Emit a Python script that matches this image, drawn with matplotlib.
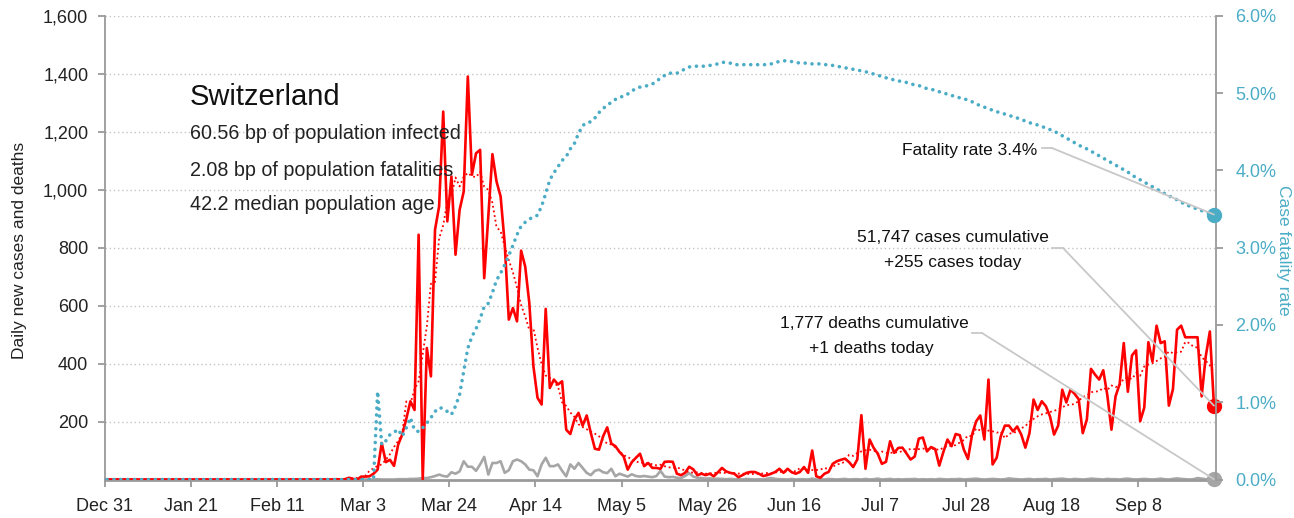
"""Switzerland: daily new cases, deaths and case fatality rate (Dec 31 - Sep 26)."""
import numpy as np
import pandas as pd
import matplotlib
matplotlib.use("Agg")
import matplotlib.pyplot as plt
from matplotlib.lines import Line2D
from matplotlib.patches import ConnectionPatch
from matplotlib.ticker import FuncFormatter

plt.rcParams["font.family"] = ["Liberation Sans", "DejaVu Sans"]

# ============================ data ============================
FIRST = 55                                   # day index (days after Dec 31) of first listed value
LEAD_ZEROS = [0] * FIRST                     # Dec 31 .. Feb 23: flat at zero

# daily new cases, day 55 .. 270
CASES = [
    0, 1, 0, 1, 6, 2, 0, 10, 10, 11,                       # 55-64
    20, 34, 126, 60, 68, 47, 120, 155, 210, 270,           # 65-74
    240, 845, 0, 454, 356, 862, 943, 1270, 891, 1046,      # 75-84
    776, 931, 994, 1391, 1052, 1126, 1138, 695, 910, 1123, # 85-94
    1029, 977, 814, 552, 592, 546, 790, 735, 609, 391,     # 95-104
    282, 259, 589, 316, 345, 328, 339, 172, 157, 207,      # 105-114
    230, 186, 221, 161, 106, 103, 149, 180, 124, 115,      # 115-124
    95, 80, 34, 60, 75, 89, 46, 57, 40, 40,                # 125-134
    37, 61, 62, 61, 20, 15, 23, 44, 35, 15,                # 135-144
    20, 15, 20, 11, 25, 40, 28, 23, 20, 8,                 # 145-154
    15, 23, 26, 26, 20, 12, 15, 20, 26, 37,                # 155-164
    23, 37, 25, 20, 26, 43, 23, 100, 11, 6,                # 165-174
    20, 26, 54, 63, 68, 72, 60, 43, 69, 222,               # 175-184
    37, 138, 109, 89, 54, 61, 132, 92, 109, 110,           # 185-194
    90, 69, 79, 141, 145, 97, 112, 105, 48, 95,            # 195-204
    138, 115, 157, 153, 103, 71, 155, 201, 221, 138,       # 205-214
    345, 52, 75, 149, 186, 186, 166, 183, 155, 110,        # 215-224
    160, 276, 240, 270, 253, 218, 155, 186, 310, 266,      # 225-234
    310, 296, 277, 160, 207, 382, 362, 345, 377, 290,      # 235-244
    172, 287, 330, 471, 303, 428, 446, 201, 248, 474,      # 245-254
    407, 531, 471, 477, 255, 312, 517, 531, 491, 491,      # 255-264
    491, 491, 287, 425, 511, 255,                          # 265-270
]

# daily deaths, day 55 .. 270
DEATHS = [
    0, 0, 0, 0, 0, 0, 0, 0, 0, 0,                          # 55-64
    0, 1, 0, 0, 0, 0, 1, 1, 1, 2,                          # 65-74
    2, 3, 5, 5, 8, 12, 17, 12, 10, 25,                     # 75-84
    20, 28, 63, 44, 44, 30, 52, 78, 17, 57,                # 85-94
    57, 63, 23, 32, 63, 69, 63, 52, 34, 32,                # 95-104
    11, 52, 75, 46, 46, 52, 30, 11, 52, 37,                # 105-114
    57, 40, 23, 15, 30, 34, 25, 22, 37, 11,                # 115-124
    20, 15, 10, 18, 12, 10, 12, 10, 8, 12,                 # 125-134
    30, 10, 8, 9, 6, 5, 12, 22, 10, 6,                     # 135-144
    5, 3, 4, 2, 3, 2, 1, 2, 1, 1,                          # 145-154
    0, 2, 1, 0, 1, 0, 3, 5, 2, 1,                          # 155-164
    1, 0, 2, 0, 1, 1, 0, 3, 0, 1, 0, 2, 1, 0, 1, 2,        # 165-180
    0, 1, 1, 0, 2, 0, 1, 3, 0, 1, 2, 0, 1, 0, 1, 1, 2, 0, 1, 0,   # 181-200
    1, 0, 2, 1, 0, 1, 1, 2, 0, 1, 2, 3, 1, 0, 1, 2, 1, 0, 1, 4,   # 201-220
    2, 1, 0, 1, 2, 0, 1, 1, 2, 0, 1, 2, 3, 1, 0, 2, 1, 0, 1, 3,   # 221-240
    2, 1, 0, 2, 1, 1, 0, 2, 3, 1, 0, 1, 2, 1, 0, 1, 3, 1, 0, 2,   # 241-260
    4, 2, 1, 0, 1, 5, 3, 1, 2, 1,                          # 261-270
]

# case fatality rate (%), day 55 .. 270
RATE = [
    0, 0, 0, 0, 0, 0, 0, 0, 0, 0, 0,                       # 55-65
    1.14, 0.45, 0.50, 0.58, 0.61, 0.65, 0.56, 0.67, 0.80,  # 66-74
    0.64, 0.62, 0.67, 0.73, 0.80, 0.88, 0.93, 0.92, 0.88, 0.84,   # 75-84
    0.95, 1.10, 1.40, 1.70, 1.85, 1.95, 2.08, 2.24, 2.28, 2.42,   # 85-94
    2.58, 2.67, 2.78, 2.90, 3.03, 3.17, 3.28, 3.33, 3.37, 3.40,   # 95-104
    3.42, 3.54, 3.70, 3.88, 3.97, 4.05, 4.13, 4.18, 4.28, 4.35,   # 105-114
    4.48, 4.58, 4.62, 4.63, 4.68, 4.75, 4.80, 4.85, 4.88, 4.92,   # 115-124
    4.95, 4.96, 4.99, 5.03, 5.06, 5.08, 5.09, 5.10, 5.12, 5.15,   # 125-134
    5.20, 5.23, 5.26, 5.26, 5.26, 5.28, 5.32, 5.34, 5.35, 5.35,   # 135-144
    5.35, 5.35, 5.36, 5.37, 5.38, 5.40, 5.40, 5.39, 5.37, 5.37,   # 145-154
    5.37, 5.37, 5.37, 5.37, 5.37, 5.37, 5.37, 5.38, 5.40, 5.41,   # 155-164
    5.42, 5.42, 5.41, 5.40, 5.39, 5.39, 5.39, 5.38, 5.38, 5.38,   # 165-174
    5.37, 5.37, 5.36, 5.35, 5.34, 5.33, 5.32, 5.31, 5.30, 5.29,   # 175-184
    5.28, 5.26, 5.25, 5.23, 5.22, 5.20, 5.19, 5.17, 5.16, 5.15,   # 185-194
    5.14, 5.12, 5.11, 5.10, 5.08, 5.06, 5.05, 5.04, 5.02, 5.00,   # 195-204
    4.99, 4.97, 4.96, 4.94, 4.93, 4.91, 4.89, 4.86, 4.84, 4.82,   # 205-214
    4.80, 4.78, 4.76, 4.75, 4.73, 4.71, 4.70, 4.68, 4.66, 4.64,   # 215-224
    4.62, 4.60, 4.59, 4.57, 4.55, 4.53, 4.51, 4.48, 4.45, 4.42,   # 225-234
    4.39, 4.36, 4.33, 4.30, 4.28, 4.25, 4.22, 4.19, 4.16, 4.13,   # 235-244
    4.10, 4.07, 4.04, 4.01, 3.98, 3.94, 3.91, 3.88, 3.85, 3.82,   # 245-254
    3.79, 3.76, 3.73, 3.70, 3.67, 3.65, 3.62, 3.59, 3.56, 3.54,   # 255-264
    3.52, 3.50, 3.48, 3.46, 3.45, 3.43,                           # 265-270
]

TICK_DAYS   = [0, 21, 42, 63, 84, 105, 126, 147, 168, 189, 210, 231, 252]
TICK_LABELS = ["Dec 31", "Jan 21", "Feb 11", "Mar 3", "Mar 24", "Apr 14", "May 5",
               "May 26", "Jun 16", "Jul 7", "Jul 28", "Aug 18", "Sep 8"]
LEFT_TICKS  = [200, 400, 600, 800, 1000, 1200, 1400, 1600]
RIGHT_TICKS = [0, 1, 2, 3, 4, 5, 6]

COUNTRY = "Switzerland"
INFO = ["60.56 bp of population infected",
        "2.08 bp of population fatalities",
        "42.2 median population age"]
CUM_CASES, CUM_DEATHS = 51747, 1777

# ============================ series ============================
cases  = pd.Series(LEAD_ZEROS + CASES, dtype=float)
deaths = pd.Series(LEAD_ZEROS + DEATHS, dtype=float)
rate   = pd.Series(LEAD_ZEROS + RATE, dtype=float)
avg    = cases.rolling(7, center=True, min_periods=4).mean()
x      = np.arange(len(cases)) + 0.5           # each day drawn mid-cell

RED, BLUE, GREY, AX = "#ff0000", "#4bacc6", "#a6a6a6", "#9a9a9a"
W, H = 1294, 518

fig = plt.figure(figsize=(W / 100, H / 100), dpi=100)
ax = fig.add_axes([105 / W, 1 - 479.5 / H, 1111 / W, 463.5 / H])
ax2 = ax.twinx()

ax.plot(x, deaths, color=GREY, lw=1.9, zorder=2)
ax.plot(x, avg, color=RED, lw=1.3, ls=(0, (1, 1.6)), zorder=3)
ax.plot(x, cases, color=RED, lw=1.9, zorder=4)
ax2.plot(x, rate, color=BLUE, lw=2.6, ls=(0, (0.01, 1.9)), dash_capstyle="round")

ax.plot(x[-1], cases.iloc[-1], "o", color=RED, ms=10, clip_on=False, zorder=6)
ax.plot(x[-1], deaths.iloc[-1], "o", color=GREY, ms=10, clip_on=False, zorder=6)
ax2.plot(x[-1], rate.iloc[-1], "o", color=BLUE, ms=10, clip_on=False, zorder=6)

ax.set_xlim(0, 271)
ax.set_ylim(0, 1600)
ax2.set_ylim(0, 6)

ax.set_xticks(TICK_DAYS)
ax.set_xticklabels(TICK_LABELS)
ax.set_yticks(LEFT_TICKS)
ax.yaxis.set_major_formatter(FuncFormatter(lambda v, _: f"{v:,.0f}"))
ax2.set_yticks(RIGHT_TICKS)
ax2.yaxis.set_major_formatter(FuncFormatter(lambda v, _: f"{v:.1f}%"))

ax.grid(axis="y", color="#c4c4c4", lw=1, ls=(0, (1, 2)))
ax.set_axisbelow(True)

ax.tick_params(axis="x", length=5, width=1.3, color=AX, pad=8, labelsize=13, labelcolor="#222")
ax.tick_params(axis="y", length=5, width=1.3, color=AX, pad=7, labelsize=13, labelcolor="#222")
ax2.tick_params(axis="y", length=5, width=1.3, color=AX, pad=9, labelsize=13, labelcolor=BLUE)

for s in ("top", "right"):
    ax.spines[s].set_visible(False)
for s in ("top", "left", "bottom"):
    ax2.spines[s].set_visible(False)
ax.spines["left"].set_color(AX); ax.spines["left"].set_linewidth(1.3)
ax.spines["bottom"].set_color(AX); ax.spines["bottom"].set_linewidth(2)
ax2.spines["right"].set_color(AX); ax2.spines["right"].set_linewidth(1.3)

# ------------------------------- texts -------------------------------
def fp(px, py):
    """pixel position (from top-left) -> figure fraction"""
    return px / W, 1 - py / H

fig.text(*fp(190, 97), COUNTRY, fontsize=21, va="center", ha="left", color="#111")
for py, line in zip([134, 170, 205], INFO):
    fig.text(*fp(190, py), line, fontsize=14.2, va="center", ha="left", color="#222")

fig.text(*fp(20, 250), "Daily new cases and deaths", rotation=90, fontsize=12.5,
         va="center", ha="center", color="#222")
fig.text(*fp(1284, 250), "Case fatality rate", rotation=270, fontsize=12.5,
         va="center", ha="center", color=BLUE)

ANN = dict(fontsize=12.5, va="center", color="#111")
fig.text(*fp(1037, 151), f"Fatality rate {rate.iloc[-1]:.1f}%", ha="right", **ANN)
fig.text(*fp(953, 237), f"{CUM_CASES:,} cases cumulative", ha="center", **ANN)
fig.text(*fp(953, 262), f"+{int(cases.iloc[-1])} cases today", ha="center", **ANN)
fig.text(*fp(874, 324), f"{CUM_DEATHS:,} deaths cumulative", ha="center", **ANN)
fig.text(*fp(871, 349), f"+{int(deaths.iloc[-1])} deaths today", ha="center", **ANN)

LEADER = "#c8c8c8"
for (p0, p1, target, axis) in [
    ((1042, 148), (1052, 148), rate.iloc[-1], ax2),
    ((1052, 248), (1063, 248), cases.iloc[-1], ax),
    ((972, 333), (982, 333), deaths.iloc[-1], ax),
]:
    a, b = fp(*p0), fp(*p1)
    fig.add_artist(Line2D([a[0], b[0]], [a[1], b[1]], transform=fig.transFigure,
                          color=LEADER, lw=1.3))
    fig.add_artist(ConnectionPatch(xyA=b, coordsA="figure fraction",
                                   xyB=(x[-1], target), coordsB="data", axesB=axis,
                                   color=LEADER, lw=1.3))

fig.savefig("out.png", dpi=100)
